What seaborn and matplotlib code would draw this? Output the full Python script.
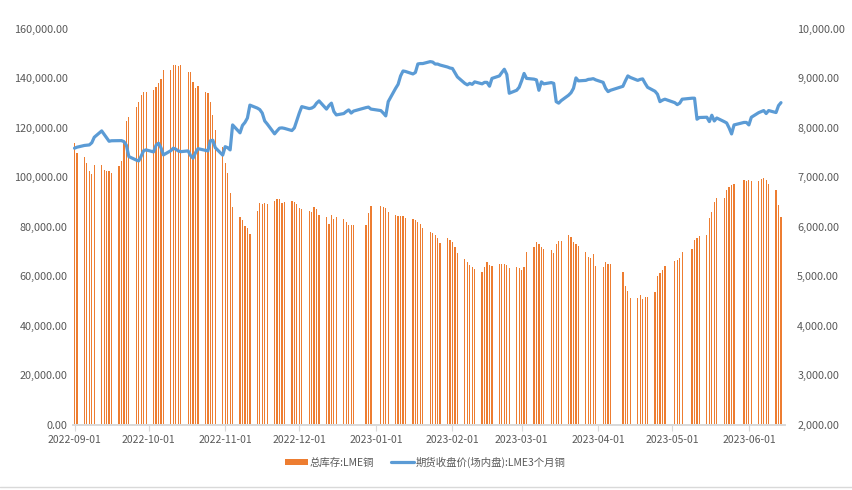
import numpy as np
import pandas as pd
import matplotlib
matplotlib.use("Agg")
import matplotlib.pyplot as plt
import matplotlib.dates as mdates
from matplotlib.patches import Patch
from matplotlib.lines import Line2D
from matplotlib.ticker import FuncFormatter, MultipleLocator
import seaborn as sns

# LME trading days (weekdays minus the exchange holidays seen as gaps)
start_date = "2022-09-01"
end_date = "2023-06-14"
holidays = ["2022-12-26", "2022-12-27", "2023-01-02", "2023-04-07",
            "2023-04-10", "2023-05-01", "2023-05-08", "2023-05-29"]

# 总库存:LME铜 (tonnes), one row per week
inventory = [
    114000, 110000,
    108400, 105700, 102700, 101500, 105000,
    105000, 103000, 102500, 102500, 101700,
    104600, 106800, 114000, 122600, 124300,
    128600, 130500, 133300, 134400, 134700,
    135300, 136700, 138300, 139700, 143400,
    143400, 145300, 145300, 145000, 145300,
    142700, 142700, 138700, 136000, 137000,
    134400, 134000, 130400, 125200, 119200,
    112400, 106000, 101700, 93600, 88200,
    84100, 82800, 80400, 79500, 77200,
    86500, 89600, 89300, 89600, 89300,
    90600, 91400, 91100, 89600, 90200,
    90600, 90200, 89300, 87800, 87100,
    86500, 86200, 88200, 87100, 84800,
    83800, 81200, 84800, 83100, 83900,
    83100, 81900, 80800, 80600, 80800,
    80800, 85500, 88500,
    88500, 88200, 87500, 85900,
    84600, 84400, 84400, 84400, 83500,
    83100, 82600, 81900, 81200, 79500,
    78100, 77700, 76800, 75500, 73600,
    75500, 74700, 73900, 71800, 69600,
    67100, 66000, 64600, 63700, 62900,
    61900, 63600, 65700, 64600, 64200,
    64900, 64900, 64900, 64400, 63200,
    63600, 63500, 62700, 63600, 70000,
    72000, 74000, 73200, 71800, 71000,
    70700, 69600, 73200, 74300, 74300,
    76600, 75900, 74000, 73000, 72300,
    70000, 68000, 67300, 69000, 64200,
    63600, 65700, 65000, 65000,
    61600, 56100, 54100, 51100,
    51100, 52500, 50800, 51600, 51600,
    53500, 60200, 61300, 62400, 64200,
    66300, 66700, 67300, 70000,
    71100, 74700, 75600, 76300,
    76700, 83500, 86200, 90000, 91600,
    91600, 94700, 96300, 97000, 97400,
    99000, 98700, 99000, 98400,
    98400, 99300, 99700, 99000, 97400,
    95000, 88900, 83900,
]

# 期货收盘价(场内盘):LME3个月铜 (USD/t), one row per week
price = [
    7590, 7610,
    7645, 7650, 7656, 7700, 7811,
    7939, 7870, 7800, 7730, 7740,
    7743, 7743, 7723, 7650, 7420,
    7350, 7333, 7430, 7540, 7555,
    7515, 7650, 7690, 7600, 7454,
    7540, 7590, 7570, 7535, 7520,
    7535, 7440, 7387, 7500, 7580,
    7545, 7535, 7740, 7750, 7600,
    7450, 7620, 7600, 7555, 8060,
    7900, 8050, 8110, 8200, 8460,
    8400, 8370, 8300, 8140, 8080,
    7880, 7940, 7995, 8000, 7990,
    7946, 8000, 8148, 8300, 8430,
    8390, 8400, 8430, 8500, 8545,
    8380, 8450, 8500, 8330, 8262,
    8290, 8330, 8363, 8300, 8340,
    8410, 8420, 8380,
    8350, 8300, 8242, 8530,
    8800, 8880, 9050, 9150, 9140,
    9090, 9120, 9292, 9300, 9300,
    9339, 9330, 9290, 9290, 9270,
    9230, 9210, 9200, 9117, 9030,
    8900, 8870, 8900, 8880, 8930,
    8890, 8920, 8920, 8842, 9000,
    9050, 9120, 9185, 9080, 8700,
    8760, 8820, 8950, 9100, 9000,
    8985, 8970, 8760, 8930, 8890,
    8915, 8900, 8530, 8500, 8550,
    8660, 8710, 8800, 9010, 8950,
    8960, 8980, 8985, 8995, 8970,
    8920, 8800, 8733, 8760,
    8840, 8950, 9050, 9020,
    8960, 8980, 8990, 8900, 8820,
    8740, 8680, 8530, 8560, 8580,
    8510, 8470, 8500, 8580,
    8600, 8600, 8175, 8210,
    8215, 8127, 8255, 8140, 8200,
    8127, 8100, 8000, 7878, 8060,
    8110, 8110, 8060, 8215,
    8309, 8330, 8350, 8290, 8350,
    8310, 8450, 8510,
]

bar_label = "总库存:LME铜"
line_label = "期货收盘价(场内盘):LME3个月铜"

dates = pd.bdate_range(start_date, end_date)
dates = dates[~dates.isin(pd.to_datetime(holidays))]
df = pd.DataFrame({"date": dates, "inventory": inventory, "price": price})

sns.set_theme(style="white")
plt.rcParams["font.family"] = ["Noto Sans CJK SC", "DejaVu Sans"]
plt.rcParams["axes.unicode_minus"] = False

orange = "#ED7D31"
blue = "#5B9BD5"
grey = "#595959"

fig, ax = plt.subplots(figsize=(8.52, 4.90), dpi=100)
fig.subplots_adjust(left=0.086, right=0.921, top=0.941, bottom=0.133)

ax.bar(df["date"], df["inventory"], width=0.5, color=orange, linewidth=0)
ax.set_ylim(0, 160000)
ax.yaxis.set_major_locator(MultipleLocator(20000))
ax.yaxis.set_major_formatter(FuncFormatter(lambda v, p: f"{v:,.2f}"))

ax2 = ax.twinx()
sns.lineplot(data=df, x="date", y="price", ax=ax2, color=blue, linewidth=2.3)
ax2.set_ylim(2000, 10000)
ax2.yaxis.set_major_locator(MultipleLocator(1000))
ax2.yaxis.set_major_formatter(FuncFormatter(lambda v, p: f"{v:,.2f}"))

ax.set_xlim(pd.Timestamp("2022-08-31 12:00"), pd.Timestamp("2023-06-15 12:00"))
ax.xaxis.set_major_locator(mdates.MonthLocator(bymonthday=1))
ax.xaxis.set_major_formatter(mdates.DateFormatter("%Y-%m-%d"))

for a in (ax, ax2):
    a.set_xlabel("")
    a.set_ylabel("")
    a.grid(False)
    for s in ("left", "right", "top"):
        a.spines[s].set_visible(False)
    a.spines["bottom"].set_color("#D9D9D9")
    a.tick_params(axis="y", length=0, labelsize=7.8, labelcolor=grey, pad=4)

ax.tick_params(axis="x", length=4, width=0.8, color="#D9D9D9",
               labelsize=7.5, labelcolor=grey, pad=3, bottom=True)
ax2.tick_params(axis="y", pad=9)

handles = [Patch(facecolor=orange, edgecolor="none", label=bar_label),
           Line2D([0], [0], color=blue, linewidth=2.3, label=line_label)]
fig.legend(handles=handles, loc="center", bbox_to_anchor=(0.499, 0.057), ncol=2,
           frameon=False, fontsize=7.5, labelcolor=grey, handlelength=2.2,
           handleheight=0.55, columnspacing=1.6, handletextpad=0.2)

fig.add_artist(Line2D([0, 1], [0.006, 0.006], transform=fig.transFigure,
                      color="#D9D9D9", linewidth=1))

fig.savefig("out.png", dpi=100)
